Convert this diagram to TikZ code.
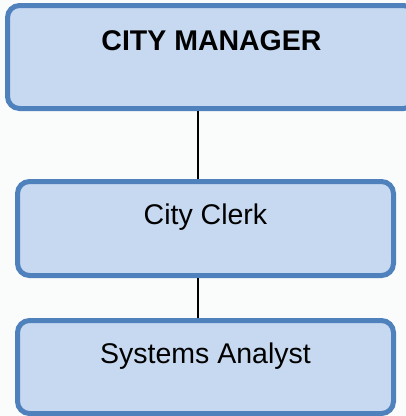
\documentclass[tikz,border=0pt]{standalone}
\usepackage{fontspec}
\setmainfont{Liberation Sans}
\definecolor{boxfill}{HTML}{C6D9F0}
\definecolor{boxline}{HTML}{4F81BD}
\definecolor{bg}{HTML}{FAFBFB}
\begin{document}
\begin{tikzpicture}[x=1pt,y=-1pt,
  orgbox/.style={draw=boxline, fill=boxfill, line width=5pt, rounded corners=12pt, rectangle, inner sep=0pt},
  lbl/.style={anchor=base, inner sep=0pt, font=\fontsize{28.5}{34}\selectfont},
  conn/.style={draw=black, line width=1.6pt}]
\fill[bg] (0,0) rectangle (406,416);
\useasboundingbox (0,0) rectangle (406,416);
\node[orgbox, minimum width=408pt, minimum height=103pt] (cm) at (211.5,57) {};
\node[orgbox, minimum width=376pt, minimum height=94pt] (cc) at (205.5,228.5) {};
\node[orgbox, minimum width=376pt, minimum height=93pt] (sa) at (205.5,367) {};
\node[lbl, font=\fontsize{28.5}{34}\selectfont\bfseries] (cmt) at (211.5,50) {CITY MANAGER};
\node[lbl] (cct) at (205.5,224) {City Clerk};
\node[lbl] (sat) at (205.5,363) {Systems Analyst};
\coordinate (lx) at (198,0);
\draw[conn] (cm.south -| lx) -- (cc.north -| lx);
\draw[conn] (cc.south -| lx) -- (sa.north -| lx);
\end{tikzpicture}
\end{document}
